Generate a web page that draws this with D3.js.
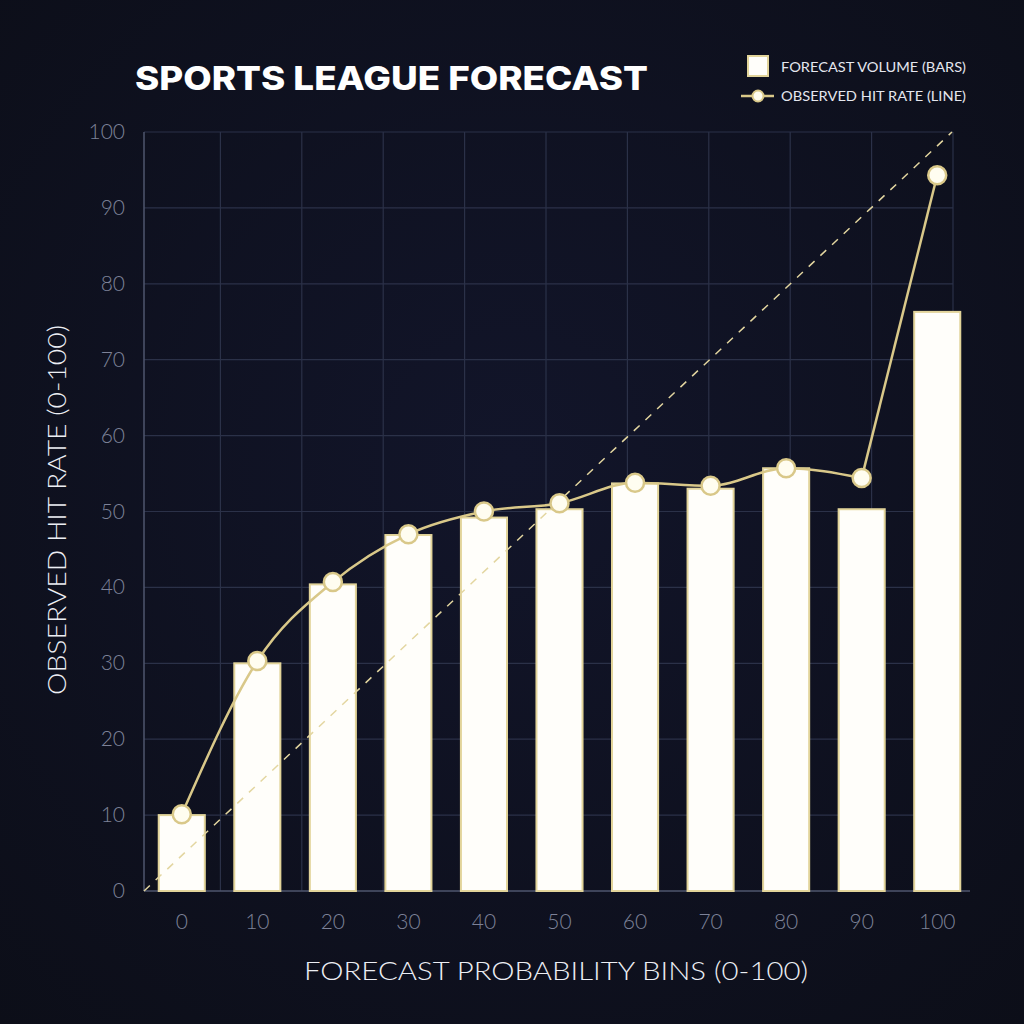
<!DOCTYPE html>
<html>
<head>
<meta charset="utf-8">
<script src="https://cdn.jsdelivr.net/npm/d3@7"></script>
<style>
  html, body { margin: 0; padding: 0; background: #0f111e; }
  svg { display: block; }
</style>
</head>
<body>
<div id="chart"></div>
<script>
// bins and values
var bins = [0, 10, 20, 30, 40, 50, 60, 70, 80, 90, 100];
var volume = [10, 30, 40.4, 46.9, 49.2, 50.3, 53.7, 53.0, 55.7, 50.3, 76.3];
var hitRate = [10.1, 30.3, 40.7, 47.0, 50.0, 51.1, 53.8, 53.4, 55.7, 54.4, 94.3];
var yTicks = [0, 10, 20, 30, 40, 50, 60, 70, 80, 90, 100];
var gridX = [10, 20, 30, 40, 50, 60, 70, 80, 90, 100];

var width = 1024,
    height = 1024,
    gold = "#d9c889",
    gridColor = "#2b3148",
    axisColor = "#4f566e",
    tickColor = "#7d8298";

var svg = d3.select("#chart").append("svg")
  .attr("width", width)
  .attr("height", height);

var bg = svg.append("defs").append("radialGradient")
  .attr("id", "bg")
  .attr("cx", "50%").attr("cy", "45%").attr("r", "75%");
bg.append("stop").attr("offset", "0%").attr("stop-color", "#12152a");
bg.append("stop").attr("offset", "100%").attr("stop-color", "#0c0e18");

svg.append("rect")
  .attr("width", width)
  .attr("height", height)
  .attr("fill", "url(#bg)");

var x = d3.scaleBand()
  .domain(bins)
  .range([144, 975])
  .paddingInner(0.39)
  .paddingOuter(0.195);

var xGrid = d3.scaleLinear().domain([0, 100]).range([139, 953]);
var y = d3.scaleLinear().domain([0, 100]).range([891, 132]);

function cx(d) { return x(d) + x.bandwidth() / 2; }

// grid
var grid = svg.append("g");
grid.selectAll(".hg")
  .data(yTicks.filter(function(d) { return d > 0; }))
  .enter().append("line")
  .attr("x1", 144).attr("x2", 953)
  .attr("y1", function(d) { return y(d); })
  .attr("y2", function(d) { return y(d); })
  .attr("stroke", gridColor)
  .attr("stroke-width", 1.2);

grid.selectAll(".vg")
  .data(gridX)
  .enter().append("line")
  .attr("x1", function(d) { return xGrid(d); })
  .attr("x2", function(d) { return xGrid(d); })
  .attr("y1", y(100)).attr("y2", y(0))
  .attr("stroke", gridColor)
  .attr("stroke-width", 1.2);

// axes
svg.append("line")
  .attr("x1", 144).attr("x2", 144)
  .attr("y1", y(100)).attr("y2", y(0))
  .attr("stroke", axisColor).attr("stroke-width", 1.5);
svg.append("line")
  .attr("x1", 144).attr("x2", 970)
  .attr("y1", y(0)).attr("y2", y(0))
  .attr("stroke", axisColor).attr("stroke-width", 1.5);

// bars
svg.append("g").selectAll("rect")
  .data(bins)
  .enter().append("rect")
  .attr("x", function(d) { return x(d); })
  .attr("y", function(d, i) { return y(volume[i]); })
  .attr("width", x.bandwidth())
  .attr("height", function(d, i) { return y(0) - y(volume[i]); })
  .attr("fill", "#fffefa")
  .attr("stroke", "#e2d49a")
  .attr("stroke-width", 2);

// diagonal reference (drawn over the bars, as in the original)
svg.append("line")
  .attr("x1", 144).attr("y1", y(0))
  .attr("x2", 952).attr("y2", y(100))
  .attr("stroke", "#e3d6a0")
  .attr("stroke-width", 1.5)
  .attr("stroke-dasharray", "8,8");

// hit rate line: smooth through the bins, straight jump into the last one
var pts = bins.map(function(d, i) { return [cx(d), y(hitRate[i])]; });
var smooth = d3.line().curve(d3.curveMonotoneX);
var straight = d3.line();

svg.append("path")
  .attr("d", smooth(pts.slice(0, pts.length - 1)))
  .attr("fill", "none")
  .attr("stroke", gold)
  .attr("stroke-width", 2.5);
svg.append("path")
  .attr("d", straight(pts.slice(pts.length - 2)))
  .attr("fill", "none")
  .attr("stroke", gold)
  .attr("stroke-width", 2.5);

svg.append("g").selectAll("circle")
  .data(bins)
  .enter().append("circle")
  .attr("cx", cx)
  .attr("cy", function(d, i) { return y(hitRate[i]); })
  .attr("r", 9)
  .attr("fill", "#fffdf0")
  .attr("stroke", gold)
  .attr("stroke-width", 2.5);

// tick labels
svg.append("g").selectAll("text")
  .data(yTicks)
  .enter().append("text")
  .attr("x", 125)
  .attr("y", function(d) { return y(d) + 7; })
  .attr("text-anchor", "end")
  .attr("font-family", "Lato, sans-serif")
  .attr("font-weight", 300)
  .attr("font-size", 21)
  .attr("fill", tickColor)
  .text(function(d) { return d; });

svg.append("g").selectAll("text")
  .data(bins)
  .enter().append("text")
  .attr("x", cx)
  .attr("y", 929)
  .attr("text-anchor", "middle")
  .attr("font-family", "Lato, sans-serif")
  .attr("font-weight", 300)
  .attr("font-size", 21)
  .attr("fill", tickColor)
  .text(function(d) { return d; });

// titles
svg.append("text")
  .attr("x", 135).attr("y", 90)
  .attr("font-family", "Inter, 'Open Sans', sans-serif")
  .attr("font-weight", 800)
  .attr("font-size", 33)
  .attr("fill", "#ffffff")
  .attr("textLength", 513)
  .attr("lengthAdjust", "spacingAndGlyphs")
  .text("SPORTS LEAGUE FORECAST");

svg.append("text")
  .attr("x", 304).attr("y", 980)
  .attr("font-family", "Lato, sans-serif")
  .attr("font-weight", 300)
  .attr("font-size", 25)
  .attr("fill", "#eceef4")
  .attr("textLength", 504)
  .attr("lengthAdjust", "spacingAndGlyphs")
  .text("FORECAST PROBABILITY BINS (0-100)");

svg.append("text")
  .attr("transform", "translate(66,695) rotate(-90)")
  .attr("font-family", "Lato, sans-serif")
  .attr("font-weight", 300)
  .attr("font-size", 25)
  .attr("fill", "#eceef4")
  .attr("textLength", 370)
  .attr("lengthAdjust", "spacingAndGlyphs")
  .text("OBSERVED HIT RATE (0-100)");

// legend
var legend = svg.append("g");
legend.append("rect")
  .attr("x", 748).attr("y", 56)
  .attr("width", 20).attr("height", 20)
  .attr("fill", "#fffefa")
  .attr("stroke", "#e2d49a")
  .attr("stroke-width", 2);
legend.append("line")
  .attr("x1", 741).attr("x2", 774)
  .attr("y1", 96).attr("y2", 96)
  .attr("stroke", gold).attr("stroke-width", 2.5);
legend.append("circle")
  .attr("cx", 758).attr("cy", 96).attr("r", 5.5)
  .attr("fill", "#fffdf0")
  .attr("stroke", gold).attr("stroke-width", 2);

legend.selectAll("text")
  .data(["FORECAST VOLUME (BARS)", "OBSERVED HIT RATE (LINE)"])
  .enter().append("text")
  .attr("x", 781)
  .attr("y", function(d, i) { return 72 + i * 29; })
  .attr("font-family", "Lato, sans-serif")
  .attr("font-weight", 400)
  .attr("font-size", 14)
  .attr("fill", "#e4e6ee")
  .attr("textLength", 185)
  .attr("lengthAdjust", "spacingAndGlyphs")
  .text(function(d) { return d; });
</script>
</body>
</html>
